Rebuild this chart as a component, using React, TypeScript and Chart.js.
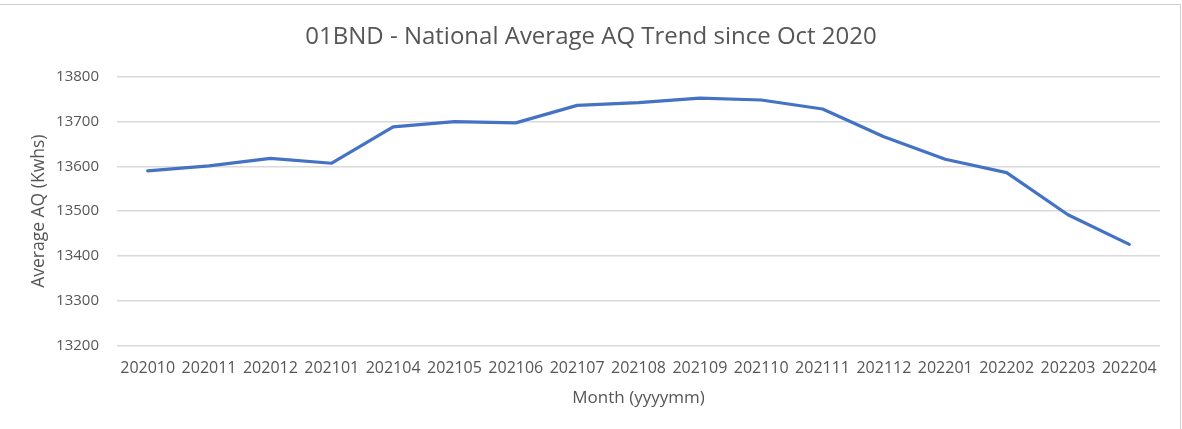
import React, { useEffect, useRef } from "react";
import { Chart, registerables } from "chart.js";

Chart.register(...registerables);

const TITLE = "01BND - National Average AQ Trend since Oct 2020";
const X_TITLE = "Month (yyyymm)";
const Y_TITLE = "Average AQ (Kwhs)";

const months = [
  "202010", "202011", "202012", "202101", "202104", "202105", "202106", "202107", "202108",
  "202109", "202110", "202111", "202112", "202201", "202202", "202203", "202204",
];

const avgAQ = [
  13590, 13601, 13618, 13607, 13688, 13700, 13697, 13736, 13742,
  13752, 13748, 13728, 13666, 13616, 13586, 13492, 13426,
];

const Y_MIN = 13200;
const Y_MAX = 13800;
const Y_STEP = 100;

const TEXT = "#565656";
const GRID = "#d9d9d9";
const LINE = "#4472C4";
const FONT = "'Open Sans', 'Noto Sans', sans-serif";

const centeredTitle = {
  id: "centeredTitle",
  afterDraw(chart: any) {
    const ctx = chart.ctx;
    ctx.save();
    ctx.font = `24px ${FONT}`;
    ctx.fillStyle = TEXT;
    ctx.textAlign = "center";
    ctx.textBaseline = "middle";
    ctx.fillText(TITLE, chart.width / 2, 37.4);
    ctx.restore();
  },
};

export default function App() {
  const ref = useRef<HTMLCanvasElement | null>(null);

  useEffect(() => {
    if (!ref.current) return;
    Chart.defaults.font.family = FONT;
    Chart.defaults.color = TEXT;
    const chart = new Chart(ref.current, {
      type: "line",
      data: {
        labels: months,
        datasets: [
          {
            label: "Average AQ",
            data: avgAQ,
            borderColor: LINE,
            backgroundColor: LINE,
            borderWidth: 3.2,
            pointRadius: 0,
            tension: 0,
            borderJoinStyle: "round",
            borderCapStyle: "round",
          },
        ],
      },
      plugins: [centeredTitle],
      options: {
        responsive: false,
        animation: false,
        layout: { padding: { left: 0, right: 22, top: 76.7, bottom: 0 } },
        plugins: {
          legend: { display: false },
          tooltip: { enabled: false },
          title: { display: false },
        },
        scales: {
          x: {
            offset: true,
            grid: { display: false, drawTicks: false },
            border: { display: false },
            ticks: { color: TEXT, font: { size: 16 }, padding: 12.7, maxRotation: 0, autoSkip: false },
            title: {
              display: true,
              text: X_TITLE,
              color: TEXT,
              font: { size: 17 },
              padding: { top: 0, bottom: 20.8 },
            },
            afterFit: (s: any) => {
              s.height = 83.3;
            },
          },
          y: {
            min: Y_MIN,
            max: Y_MAX,
            grid: { color: GRID, lineWidth: 1.5, drawTicks: false },
            border: { display: false },
            ticks: {
              stepSize: Y_STEP,
              color: TEXT,
              font: { size: 15 },
              padding: 18,
              callback: (v: any) => String(v),
            },
            title: {
              display: true,
              text: Y_TITLE,
              color: TEXT,
              font: { size: 17.5 },
              padding: { top: 28.5, bottom: 0 },
            },
            afterFit: (s: any) => {
              s.width = 117;
            },
          },
        },
      },
    });
    return () => chart.destroy();
  }, []);

  return (
    <div style={{ position: "absolute", left: 0, top: 0, width: 1182, height: 429, background: "#fff" }}>
      <div
        style={{
          position: "absolute",
          left: 0,
          top: 4,
          width: 1180,
          height: 425,
          borderTop: "1px solid #d0d0d0",
          borderRight: "1px solid #d0d0d0",
        }}
      />
      <canvas ref={ref} width={1182} height={429} style={{ position: "absolute", left: 0, top: 0 }} />
    </div>
  );
}
